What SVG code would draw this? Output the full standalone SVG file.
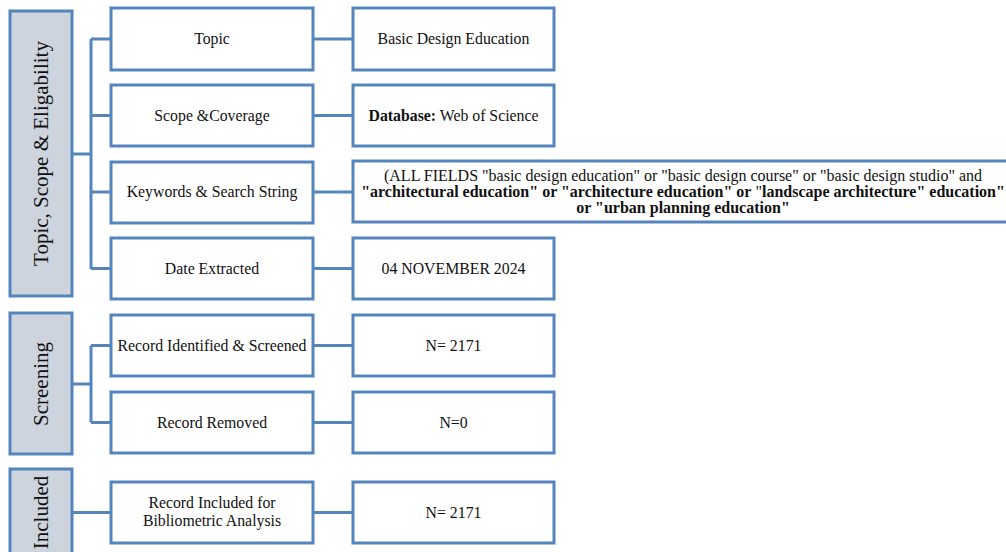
<svg xmlns="http://www.w3.org/2000/svg" width="1006" height="552" viewBox="0 0 1006 552">
<style>
.box{fill:#ffffff;stroke:#5585bd;stroke-width:3}
.bar{fill:#cdd4de;stroke:#5585bd;stroke-width:3}
.con{fill:none;stroke:#5585bd;stroke-width:3}
text{font-family:"Liberation Serif","Times New Roman",serif;fill:#111;text-anchor:middle}
.t{font-size:15.8px}
.v{font-size:21px}
.k{font-size:16px}
.b{font-weight:bold}
</style>
<rect width="1006" height="552" fill="#ffffff"/>
<g id="connectors">
<path class="con" d="M72,154 H91 M91,39 V269 M91,39 H111 M91,115.5 H111 M91,192 H111 M91,268.5 H111"/>
<path class="con" d="M313,39 H353 M313,115.5 H353 M313,192 H353 M313,268.5 H353"/>
<path class="con" d="M72,384 H91 M91,345.5 V422.5 M91,345.5 H111 M91,422.5 H111"/>
<path class="con" d="M313,345.5 H353 M313,422.5 H353"/>
<path class="con" d="M72,512.5 H111 M313,512.5 H353"/>
</g>
<g id="bar-topic">
<rect class="bar" x="10" y="11" width="62" height="285"/>
<text class="v" transform="translate(48,153.5) rotate(-90)">Topic, Scope &amp; Eligability</text>
</g>
<g id="bar-screening">
<rect class="bar" x="10" y="313" width="62" height="141"/>
<text class="v" transform="translate(48,384) rotate(-90)">Screening</text>
</g>
<g id="bar-included">
<rect class="bar" x="10" y="469" width="62" height="92"/>
<text class="v" transform="translate(48,512.5) rotate(-90)">Included</text>
</g>
<g id="n-topic">
<rect class="box" x="111" y="8" width="202" height="62"/>
<text class="t" x="212" y="44">Topic</text>
</g>
<g id="n-topic-val">
<rect class="box" x="353" y="8" width="201" height="62"/>
<text class="t" x="453.5" y="44">Basic Design Education</text>
</g>
<g id="n-scope">
<rect class="box" x="111" y="85" width="202" height="61"/>
<text class="t" x="212" y="120.5">Scope &amp;Coverage</text>
</g>
<g id="n-scope-val">
<rect class="box" x="353" y="85" width="201" height="61"/>
<text class="t" x="453.5" y="120.5"><tspan class="b">Database:</tspan> Web of Science</text>
</g>
<g id="n-keywords">
<rect class="box" x="111" y="162" width="202" height="61"/>
<text class="t" x="212" y="197">Keywords &amp; Search String</text>
</g>
<g id="n-keywords-val">
<rect class="box" x="353" y="161" width="656" height="61"/>
<text class="k" x="683" y="181">(ALL FIELDS "basic design education" or "basic design course" or "basic design studio" and</text>
<text class="k" x="683" y="197"><tspan class="b">"architectural education" or "architecture education" or</tspan> "<tspan class="b">landscape architecture" education"</tspan></text>
<text class="k b" x="683" y="213">or "urban planning education"</text>
</g>
<g id="n-date">
<rect class="box" x="111" y="238" width="202" height="61"/>
<text class="t" x="212" y="273.5">Date Extracted</text>
</g>
<g id="n-date-val">
<rect class="box" x="353" y="238" width="201" height="61"/>
<text class="t" x="453.5" y="273.5">04 NOVEMBER 2024</text>
</g>
<g id="n-identified">
<rect class="box" x="111" y="315" width="202" height="61"/>
<text class="t" x="212" y="350.5">Record Identified  &amp; Screened</text>
</g>
<g id="n-identified-val">
<rect class="box" x="353" y="315" width="201" height="61"/>
<text class="t" x="453.5" y="350.5">N= 2171</text>
</g>
<g id="n-removed">
<rect class="box" x="111" y="392" width="202" height="61"/>
<text class="t" x="212" y="427.5">Record Removed</text>
</g>
<g id="n-removed-val">
<rect class="box" x="353" y="392" width="201" height="61"/>
<text class="t" x="453.5" y="427.5">N=0</text>
</g>
<g id="n-included">
<rect class="box" x="111" y="482" width="202" height="61"/>
<text class="t" x="212" y="508">Record Included for</text>
<text class="t" x="212" y="526">Bibliometric Analysis</text>
</g>
<g id="n-included-val">
<rect class="box" x="353" y="482" width="201" height="61"/>
<text class="t" x="453.5" y="517.5">N= 2171</text>
</g>
</svg>
